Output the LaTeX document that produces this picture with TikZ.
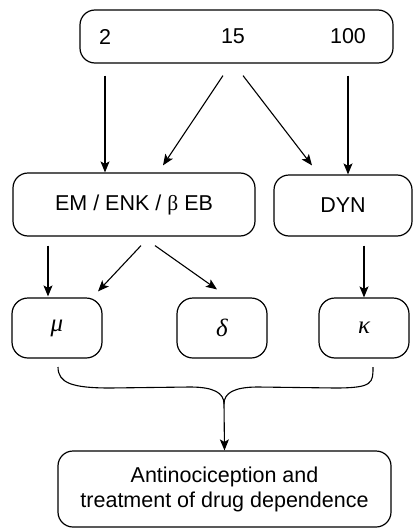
\documentclass[tikz,border=0pt]{standalone}
\usepackage{fontspec}
\setmainfont{Liberation Sans}
\newfontfamily\symserif{Liberation Serif}
\usetikzlibrary{arrows.meta,calc}
\begin{document}
\begin{tikzpicture}[x=1pt,y=-1pt,
  txt/.style={font=\fontsize{21.5}{25}\selectfont},
  box/.style={draw, line width=1.2pt, rounded corners=15pt, inner sep=0pt, align=center, txt},
  lbl/.style={inner sep=0pt, txt},
  arr/.style={line width=1.1pt, -{Stealth[length=11pt,width=9pt,inset=2.5pt]}},
  recbox/.style={box, rounded corners=16pt, minimum width=90pt, minimum height=60pt,
    font=\fontsize{25}{28}\symserif\itshape},
  bracepath/.style={line width=1.1pt}
]
\useasboundingbox (0,0) rectangle (413,530);

% top row: the three values
\node[box, minimum width=313pt, minimum height=53pt] (top) at (236.5,36.5) {};
\node[lbl] (n2) at (105,36.5) {2};
\node[lbl] (n15) at (233,36.5) {15};
\node[lbl] (n100) at (348,36.5) {100};

% peptide families
\node[box, minimum width=242pt, minimum height=63pt] (em) at (134,204.5)
  {EM / ENK / {\symserif β} EB};
\node[box, minimum width=138pt, minimum height=61pt] (dyn) at (343,205.5) {DYN};

% receptors
\node[recbox] (mu) at (57,328) {μ};
\node[recbox] (delta) at (222,328) {δ};
\node[recbox] (kappa) at (364,328) {κ};

% outcome
\node[box, minimum width=333pt, minimum height=76pt] (out) at (224.5,489)
  {Antinociception and\\treatment of drug dependence};

% values -> families
\draw[arr] ($(top.south -| n2)+(0,12)$) -- (em.north -| n2);
\draw[arr] ($(top.south -| n15)+(-10,12)$) -- ($(em.north)+(29,-7)$);
\draw[arr] ($(top.south -| n15)+(10,12)$) -- ($(dyn.north)+(-31,-9)$);
\draw[arr] ($(top.south -| n100)+(0,12)$) -- (dyn.north -| n100);

% families -> receptors
\draw[arr] ($(em.south)+(-86,9)$) -- ($(mu.north)+(-9,-1)$);
\draw[arr] ($(em.south)+(7,9)$) -- ($(mu.north)+(41,-6)$);
\draw[arr] ($(em.south)+(21,9)$) -- ($(delta.north)+(-5,-8)$);
\draw[arr] ($(dyn.south)+(21,9)$) -- (kappa.north);

% brace gathering the receptors
\coordinate (bl) at (58,367);
\coordinate (br) at (373,367);
\coordinate (tip) at (224,404);
\draw[bracepath] (bl) .. controls (58,383) and (72,388) .. (110,388)
  -- (190,387) .. controls (214,387) and (224,393) .. (tip);
\draw[bracepath] (tip) .. controls (224,393) and (234,387) .. (258,387)
  -- (335,388) .. controls (373,388) and (373,383) .. (br);
\draw[arr] (tip) -- (out.north);
\end{tikzpicture}
\end{document}
